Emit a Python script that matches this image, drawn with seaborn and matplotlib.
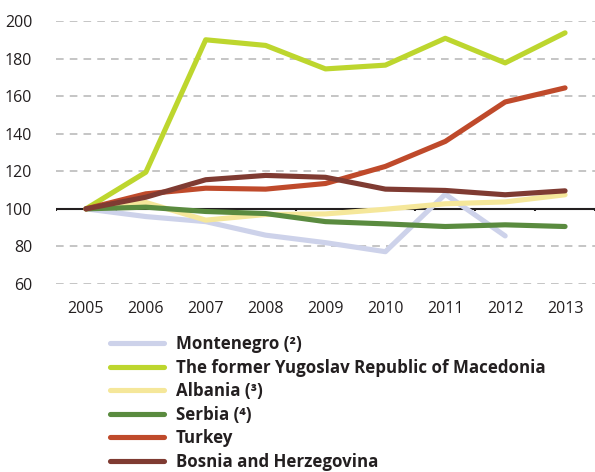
import pandas as pd
import matplotlib.pyplot as plt
import seaborn as sns

# data (index, 2005 = 100)
years = [2005, 2006, 2007, 2008, 2009, 2010, 2011, 2012, 2013]
montenegro = [100, 95.9, 93.2, 86.0, 82.0, 77.2, 107.8, 85.6, None]
macedonia = [100, 119.5, 190.0, 187.0, 174.5, 176.5, 190.8, 177.7, 193.7]
albania = [100, 103.4, 94.0, 97.0, 97.3, 99.8, 102.7, 103.7, 107.5]
serbia = [100, 100.9, 98.6, 97.5, 93.2, 92.0, 90.6, 91.5, 90.6]
turkey = [100, 108.0, 111.0, 110.5, 113.5, 122.6, 135.9, 156.9, 164.4]
bosnia = [100, 106.2, 115.5, 117.8, 116.8, 110.5, 109.8, 107.5, 109.6]

labels = ["Montenegro (²)", "The former Yugoslav Republic of Macedonia",
          "Albania (³)", "Serbia (⁴)", "Turkey", "Bosnia and Herzegovina"]
colors = ["#cdd2ea", "#bdd62e", "#f5e79a", "#5a8b3f", "#bf4a2b", "#7f3b32"]
series = [montenegro, macedonia, albania, serbia, turkey, bosnia]

rows = []
for lab, vals in zip(labels, series):
    for y, v in zip(years, vals):
        rows.append({"year": y, "value": v, "country": lab})
df = pd.DataFrame(rows).dropna()

sns.set_style("white")
plt.rcParams["font.family"] = ["Open Sans", "DejaVu Sans"]
plt.rcParams["text.color"] = "#231f20"

fig = plt.figure(figsize=(5.95, 4.72), dpi=100)
ax = fig.add_axes([56 / 595, 188 / 472, 539 / 595, 263 / 472])

# dashed grid, solid line at 100
for g in [60, 80, 120, 140, 160, 180, 200]:
    ax.axhline(g, color="#b5b5b5", lw=1.1, ls=(0, (5, 4)), zorder=0)

sns.lineplot(data=df, x="year", y="value", hue="country", hue_order=labels,
             palette=dict(zip(labels, colors)), linewidth=3.7, ax=ax,
             legend=True, zorder=3)

ax.axhline(100, color="#231f20", lw=1.5, zorder=2)
for b in range(10):
    ax.plot([2004.5 + b, 2004.5 + b], [100, 98.6], color="#231f20", lw=1.5,
            zorder=2, solid_capstyle="butt")

ax.set_xlim(2004.5, 2013.5)
ax.set_ylim(60, 200)
ax.set_xticks(years)
ax.set_xticklabels([str(y) for y in years])
ax.set_yticks([60, 80, 100, 120, 140, 160, 180, 200])
ax.tick_params(axis="x", length=0, pad=12, labelsize=11.5, labelcolor="#231f20")
ax.tick_params(axis="y", length=0, pad=17, labelsize=11.5, labelcolor="#231f20")
ax.set_xlabel("")
ax.set_ylabel("")
for s in ax.spines.values():
    s.set_visible(False)

leg = ax.legend(loc="upper left", bbox_to_anchor=(110 / 595, 1 - 335 / 472),
                bbox_transform=fig.transFigure, frameon=False,
                handlelength=3.2, handletextpad=0.7, labelspacing=0.33,
                borderpad=0, borderaxespad=0,
                prop={"weight": "bold", "size": 12.2})
for line in leg.get_lines():
    line.set_linewidth(3.7)
    line.set_solid_capstyle("round")

plt.savefig("out.png", dpi=100)
print("finished.")
